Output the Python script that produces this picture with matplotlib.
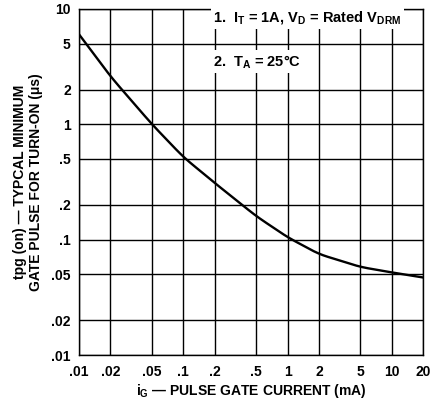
import numpy as np
import matplotlib
matplotlib.use("Agg")
import matplotlib.pyplot as plt
from matplotlib.ticker import FixedLocator, NullLocator

# gate current (mA) vs. minimum gate pulse width (us)
ig = [0.01, 0.02, 0.03, 0.05, 0.1, 0.2, 0.5, 1, 2, 5, 10, 20]
tpg = [6.0, 2.6, 1.7, 1.0, 0.52, 0.31, 0.16, 0.105, 0.075, 0.058, 0.052, 0.047]

xticks = [0.01, 0.02, 0.05, 0.1, 0.2, 0.5, 1, 2, 5, 10, 20]
xlabels = [".01", ".02", ".05", ".1", ".2", ".5", "1", "2", "5", "10", "20"]
yticks = [0.01, 0.02, 0.05, 0.1, 0.2, 0.5, 1, 2, 5, 10]
ylabels = [".01", ".02", ".05", ".1", ".2", ".5", "1", "2", "5", "10"]

plt.rcParams['font.family'] = ['Liberation Sans', 'DejaVu Sans']
plt.rcParams['mathtext.fontset'] = 'custom'
plt.rcParams['mathtext.bf'] = 'Liberation Sans:bold'
plt.rcParams['mathtext.rm'] = 'Liberation Sans:bold'
plt.rcParams['mathtext.it'] = 'Liberation Sans:bold'
plt.rcParams['mathtext.default'] = 'bf'

fig = plt.figure(figsize=(4.30, 4.03), dpi=100)
ax = fig.add_axes([0.184, 0.119, 0.800, 0.859])
ax.set_xscale('log')
ax.set_yscale('log')
ax.set_xlim(0.01, 20)
ax.set_ylim(0.01, 10)

ax.xaxis.set_major_locator(FixedLocator(xticks))
ax.yaxis.set_major_locator(FixedLocator(yticks))
ax.xaxis.set_minor_locator(NullLocator())
ax.yaxis.set_minor_locator(NullLocator())
ax.set_xticklabels(xlabels, fontsize=10, fontweight='bold')
ax.set_yticklabels(ylabels, fontsize=10, fontweight='bold')
ax.tick_params(axis='x', length=0, pad=7)
ax.tick_params(axis='y', length=0, pad=6)
ax.grid(True, color='black', lw=1.0)
for s in ax.spines.values():
    s.set_linewidth(1.0)

# smooth curve through the read points (log-log)
lx = np.log10(ig)
ly = np.log10(tpg)
xs = np.linspace(lx[0], lx[-1], 300)
ys = np.interp(xs, lx, ly)
k = np.ones(15) / 15
ys_s = np.convolve(np.pad(ys, 7, mode='reflect', reflect_type='odd'), k, mode='valid')
ax.plot(10**xs, 10**ys_s, color='black', lw=1.7, zorder=3)

box = dict(facecolor='white', edgecolor='none', pad=2)
ax.text(0.39, 0.975, r"1.  $I_T$ = 1A, V$_D$ = Rated V$_{DRM}$", transform=ax.transAxes,
        fontsize=10.5, fontweight='bold', va='center', ha='left', bbox=box, zorder=4)
ax.text(0.39, 0.847, r"2.  T$_A$ = 25°C", transform=ax.transAxes,
        fontsize=10.5, fontweight='bold', va='center', ha='left', bbox=box, zorder=4)

ax.set_xlabel(r"i$_G$ — PULSE GATE CURRENT (mA)", fontsize=10, fontweight='bold', labelpad=2)
ax.set_ylabel("tpg (on) — TYPCAL MINIMUM\nGATE PULSE FOR TURN-ON (μs)", fontsize=10,
              fontweight='bold', labelpad=6, linespacing=1.15)

fig.savefig("out.png", dpi=100)
